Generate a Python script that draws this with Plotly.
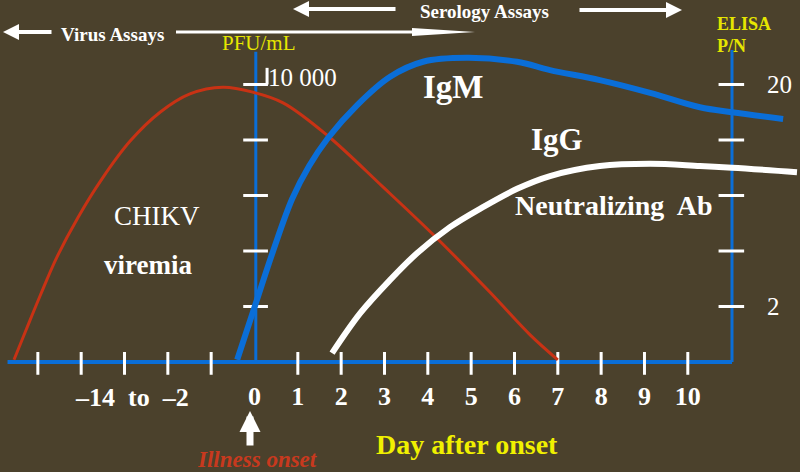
import plotly.graph_objects as go

# horizontal position in "day" units (left of 0 is the compressed -14 to -2 span),
# vertical level in tick units (tick 5 = 10 000 PFU/mL on the left, P/N 20 on the right)
viremia_day = [-5.55, -5.27, -4.95, -4.56, -4.07, -3.52, -2.87, -2.18, -1.49, -0.73,
               -0.03, 0.66, 1.67, 2.97, 4.21, 5.43, 6.36, 7.00]
viremia_level = [0.04, 0.58, 1.19, 1.89, 2.61, 3.30, 3.98, 4.50, 4.83, 4.95,
                 4.86, 4.67, 4.09, 3.15, 2.23, 1.26, 0.49, 0.04]

igm_day = [-0.40, 0.01, 0.43, 0.87, 1.26, 1.70, 2.37, 3.13, 3.89, 4.90,
           6.06, 6.82, 7.97, 9.13, 10.28, 11.02, 12.20]
igm_level = [0.04, 1.01, 2.00, 2.94, 3.53, 4.04, 4.63, 5.14, 5.41, 5.48,
             5.41, 5.26, 5.08, 4.85, 4.59, 4.50, 4.38]

igg_day = [1.79, 2.44, 3.13, 3.75, 4.51, 5.27, 6.06, 6.82, 7.97, 9.13, 10.28, 11.02, 12.52]
igg_level = [0.16, 0.88, 1.48, 1.96, 2.43, 2.79, 3.12, 3.35, 3.53, 3.57, 3.53, 3.50, 3.42]

day_ticks = [-5, -4, -3, -2, -1, 1, 2, 3, 4, 5, 6, 7, 8, 9, 10]
day_labels = [0, 1, 2, 3, 4, 5, 6, 7, 8, 9, 10]
level_ticks = [1, 2, 3, 4, 5]
elisa_ticks = [1, 5]
elisa_labels = ['2', '20']

BG = '#4b412c'
BLUE = '#0a6ed8'
RED = '#c83214'
YELLOW = '#e6e600'
FONT = 'Liberation Serif'
W, H = 800, 472

X_START, X_END = -5.70, 11.02   # ends of the day axis
LEFT_TOP, RIGHT_TOP = 5.59, 5.62

fig = go.Figure()

# axis frame
fig.add_trace(go.Scatter(x=[X_START, X_END], y=[0, 0], mode='lines',
                         line=dict(color=BLUE, width=4), hoverinfo='skip'))
fig.add_trace(go.Scatter(x=[0.03, 0.03, None, X_END, X_END], y=[0, LEFT_TOP, None, 0, RIGHT_TOP],
                         mode='lines', line=dict(color=BLUE, width=3), hoverinfo='skip'))

# white ticks crossing the axes
tx, ty = [], []
for d in day_ticks:
    tx += [d, d, None]
    ty += [0.18, -0.23, None]
for v in level_ticks:
    tx += [-0.26, 0.31, None, X_END - 0.31, X_END + 0.28, None]
    ty += [v, v, None, v, v, None]
tx += [0.29, 0.29]
ty += [5.0, 5.3]
fig.add_trace(go.Scatter(x=tx, y=ty, mode='lines', line=dict(color='white', width=3),
                         hoverinfo='skip'))

# curves
fig.add_trace(go.Scatter(x=viremia_day, y=viremia_level, mode='lines',
                         line=dict(color=RED, width=3, shape='spline'), name='CHIKV viremia'))
fig.add_trace(go.Scatter(x=igg_day, y=igg_level, mode='lines',
                         line=dict(color='white', width=6, shape='spline'), name='IgG'))
fig.add_trace(go.Scatter(x=igm_day, y=igm_level, mode='lines',
                         line=dict(color=BLUE, width=6, shape='spline'), name='IgM'))


def label(text, x, y, size, color='white', bold=True, xanchor='center', italic=False):
    # x, y in pixels from the top-left corner
    fig.add_annotation(text=text, x=x / W, y=1 - y / H, xref='paper', yref='paper',
                       xanchor=xanchor, yanchor='middle', showarrow=False,
                       font=dict(family=FONT, size=size, color=color,
                                 weight='bold' if bold else 'normal',
                                 style='italic' if italic else 'normal'))


def arrow(x, y, ax, ay, width, size=1.0):
    fig.add_annotation(text='', x=x / W, y=1 - y / H, xref='paper', yref='paper',
                       ax=ax, ay=ay, showarrow=True, arrowhead=2, arrowsize=size,
                       arrowwidth=width, arrowcolor='white')


label('Serology Assays', 484, 11, 19)
label('Virus Assays', 112, 34, 19)
label('PFU/mL', 259, 43, 21, YELLOW, bold=False)
label('ELISA', 715, 24, 18, YELLOW, xanchor='left')
label('P/N', 715, 46, 18, YELLOW, xanchor='left')
label('10 000', 266, 77, 25, bold=False, xanchor='left')
label('IgM', 453, 87, 33)
label('IgG', 557, 139, 31)
label('Neutralizing  Ab', 614, 205, 28)
label('CHIKV', 157, 216, 27, bold=False)
label('viremia', 148, 265, 27)
label('\u201314  to  \u20132', 132, 397, 26)
label('Day after onset', 467, 444, 28, '#f0f000')
label('Illness onset', 257, 459, 23, '#c8391e', italic=True)

arrow(293, 9, 104, 0, 4, 0.8)
arrow(682, 10, -104, 0, 4, 0.8)
arrow(3, 32, 50, 0, 4, 0.8)
arrow(250, 411, 0, 36, 7, 0.6)

# long thin line after "Virus Assays" ending in a narrow wedge
fig.add_shape(type='line', xref='paper', yref='paper', x0=176 / W, x1=412 / W,
              y0=1 - 32 / H, y1=1 - 32 / H, line=dict(color='white', width=3))
fig.add_shape(type='path', xref='paper', yref='paper',
              path=f'M {412 / W} {1 - 28 / H} L {475 / W} {1 - 32 / H} L {412 / W} {1 - 36 / H} Z',
              fillcolor='white', line=dict(color='white', width=0))

x_lo, x_hi = (0 - 254.5) / 43.33, (W - 254.5) / 43.33
y_lo, y_hi = (362 - H) / 55.5, 362 / 55.5

fig.update_layout(
    width=W, height=H, showlegend=False,
    paper_bgcolor=BG, plot_bgcolor=BG,
    margin=dict(l=0, r=0, t=0, b=0),
    xaxis=dict(range=[x_lo, x_hi], showgrid=False, zeroline=False, showline=False,
               anchor='free', position=(H - 362) / H,
               tickvals=day_labels, ticktext=[str(d) for d in day_labels], ticks='',
               ticklabelstandoff=16,
               tickfont=dict(family=FONT, size=26, color='white', weight='bold')),
    yaxis=dict(range=[y_lo, y_hi], showgrid=False, zeroline=False, showline=False,
               anchor='free', position=732 / W, side='right',
               tickvals=elisa_ticks, ticktext=elisa_labels, ticks='',
               ticklabelstandoff=34,
               tickfont=dict(family=FONT, size=25, color='white')),
)

fig.write_html("out.html", config={'displayModeBar': False},
               post_script="document.body.style.margin = '0';")
